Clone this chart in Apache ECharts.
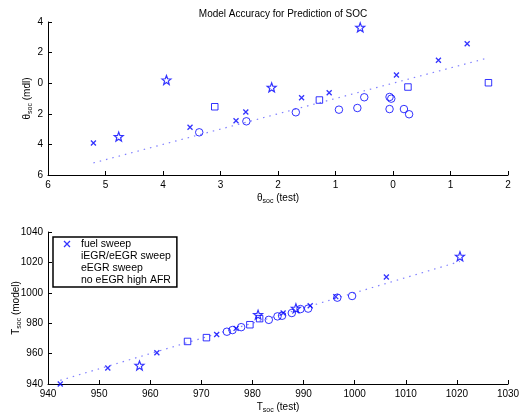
<!DOCTYPE html>
<html><head><meta charset="utf-8">
<script src="https://cdn.jsdelivr.net/npm/echarts@6/dist/echarts.min.js"></script>
<style>html,body{margin:0;padding:0;background:#fff}#c{width:519px;height:418px}</style>
</head><body><div id="c"></div>
<script>
// ---- Data: top plot (theta_soc, test vs model) ----
var seriesNames = ['fuel sweep', 'iEGR/eEGR sweep', 'eEGR sweep', 'no eEGR high AFR'];
var topFuel = [[-5.21,-3.91],[-3.53,-2.88],[-2.73,-2.45],[-2.56,-1.88],[-1.59,-0.95],[-1.11,-0.62],[0.06,0.54],[0.79,1.50],[1.29,2.58]];
var topIEGR = [[-3.37,-3.21],[-2.55,-2.49],[-1.69,-1.90],[-0.94,-1.73],[-0.62,-1.62],[-0.50,-0.92],[-0.06,-0.90],[-0.03,-1.01],[-0.06,-1.69],[0.19,-1.69],[0.28,-2.03]];
var topEEGR = [[-3.10,-1.54],[-1.28,-1.10],[0.26,-0.25],[1.66,0.03]];
var topNoEGR = [[-4.77,-3.49],[-3.94,0.21],[-2.11,-0.27],[-0.57,3.65]];
var topFit = [[-5.21,-5.21],[1.67,1.67]];
// ---- Data: bottom plot (T_soc, test vs model) ----
var botFuel = [[942.4,940.0],[951.7,950.5],[961.3,960.6],[973.0,972.6],[976.8,976.6],[986.0,986.7],[991.3,991.5],[996.3,997.5],[1006.2,1010.4]];
var botIEGR = [[975.0,974.4],[976.1,975.5],[977.8,977.4],[983.2,982.2],[984.9,984.5],[985.8,984.9],[987.7,986.7],[989.4,989.3],[990.9,989.6],[996.6,996.8],[999.5,997.9]];
var botEEGR = [[967.3,968.0],[971.0,970.5],[979.5,979.0],[981.4,983.0]];
var botNoEGR = [[957.9,952.2],[981.1,985.6],[988.5,989.8],[1020.6,1024.0]];
var botFit = [[942.4,942.4],[1020.6,1020.6]];
// ---- Axis ticks ----
var topX = {min:-6, max:2, interval:1};
var topY = {min:-6, max:4, interval:2};
var botX = {min:940, max:1030, interval:10};
var botY = {min:940, max:1040, interval:20};

var FONT = 'Liberation Sans';
var BLUE = '#0000ff';
var xPath = 'path://M0,0L10,10M10,0L0,10';
function starPath(){
  var pts=[];
  for(var k=0;k<10;k++){
    var r = (k%2===0)?10:4.2;
    var a = (-90 + k*36)*Math.PI/180;
    pts.push((10+r*Math.cos(a)).toFixed(2)+','+(10+r*Math.sin(a)).toFixed(2));
  }
  return 'path://M'+pts.join('L')+'Z';
}
var STAR = starPath();
var absFmt = function(v){return String(Math.abs(v));};
var plainFmt = function(v){return String(v);};

function axisCommon(extra, fmt){
  var o = {
    axisLine:{show:true,onZero:false,lineStyle:{color:'#000',width:1}},
    axisTick:{show:true,inside:true,length:4,lineStyle:{color:'#000'}},
    axisLabel:{color:'#000',fontFamily:FONT,fontSize:10,margin:5,formatter:fmt},
    splitLine:{show:false},
    nameMoveOverlap:false,
    nameTextStyle:{color:'#000',fontFamily:FONT,fontSize:10,
      rich:{s:{fontSize:7,verticalAlign:'bottom',padding:[6,0,0,0],fontFamily:FONT,color:'#000'}}}
  };
  for (var k in extra) o[k]=extra[k];
  return o;
}
function sc(name, data, sym, size, xi, bw){
  return {type:'scatter',name:name,data:data,xAxisIndex:xi,yAxisIndex:xi,symbol:sym,symbolSize:size,
    itemStyle:{color:'rgba(0,0,0,0)',borderColor:BLUE,borderWidth:bw||1},
    emphasis:{disabled:true},z:3};
}
function fit(data, xi){
  return {type:'line',name:'fit',data:data,xAxisIndex:xi,yAxisIndex:xi,showSymbol:false,symbol:'none',
    lineStyle:{color:'#8080ff',width:1.2,type:[1.5,5]},z:2,silent:true};
}

var chart = echarts.init(document.getElementById('c'));
chart.setOption({
  animation:false,
  backgroundColor:'#fff',
  title:{text:'Model Accuracy for Prediction of SOC',left:278,textAlign:'center',top:4,
    textStyle:{fontFamily:FONT,fontSize:10,fontWeight:'normal',color:'#000'}},
  grid:[{left:48,top:22,width:460,height:153,outerBoundsMode:'none',containLabel:false},
        {left:48,top:232,width:460,height:152,outerBoundsMode:'none',containLabel:false}],
  xAxis:[
    axisCommon({type:'value',gridIndex:0,min:topX.min,max:topX.max,interval:topX.interval,
      name:'{n|θ}{s|soc}{n| (test)}',nameLocation:'middle',nameGap:17}, absFmt),
    axisCommon({type:'value',gridIndex:1,min:botX.min,max:botX.max,interval:botX.interval,
      name:'{n|T}{s|soc}{n| (test)}',nameLocation:'middle',nameGap:17}, plainFmt)
  ],
  yAxis:[
    axisCommon({type:'value',gridIndex:0,min:topY.min,max:topY.max,interval:topY.interval,
      name:'{n|θ}{s|soc}{n| (mdl)}',nameLocation:'middle',nameGap:14}, absFmt),
    axisCommon({type:'value',gridIndex:1,min:botY.min,max:botY.max,interval:botY.interval,
      name:'{n|T}{s|soc}{n| (model)}',nameLocation:'middle',nameGap:25}, plainFmt)
  ],
  legend:{
    orient:'vertical',left:53,top:237,padding:[1,6,1,10],itemGap:0,itemWidth:6,itemHeight:6,
    borderColor:'#000',borderWidth:1.5,backgroundColor:'#fff',
    textStyle:{fontFamily:FONT,fontSize:10.5,color:'#000',lineHeight:12,padding:[0,0,0,6]},
    selectedMode:false,
    data:[
      {name:seriesNames[0],icon:xPath,itemStyle:{color:'rgba(0,0,0,0)',borderColor:BLUE,borderWidth:1.3}},
      {name:seriesNames[1],itemStyle:{opacity:0}},
      {name:seriesNames[2],itemStyle:{opacity:0}},
      {name:seriesNames[3],itemStyle:{opacity:0}}
    ]
  },
  series:[
    fit(topFit,0),
    sc(seriesNames[0], topFuel, xPath, 5, 0, 1.3),
    sc(seriesNames[1], topIEGR, 'circle', 7.5, 0, 1),
    sc(seriesNames[2], topEEGR, 'rect', 6.5, 0, 1),
    sc(seriesNames[3], topNoEGR, STAR, 9, 0, 1.2),
    fit(botFit,1),
    sc(seriesNames[0], botFuel, xPath, 5, 1, 1.3),
    sc(seriesNames[1], botIEGR, 'circle', 7.5, 1, 1),
    sc(seriesNames[2], botEEGR, 'rect', 6.5, 1, 1),
    sc(seriesNames[3], botNoEGR, STAR, 9, 1, 1.2)
  ]
});
</script></body></html>
